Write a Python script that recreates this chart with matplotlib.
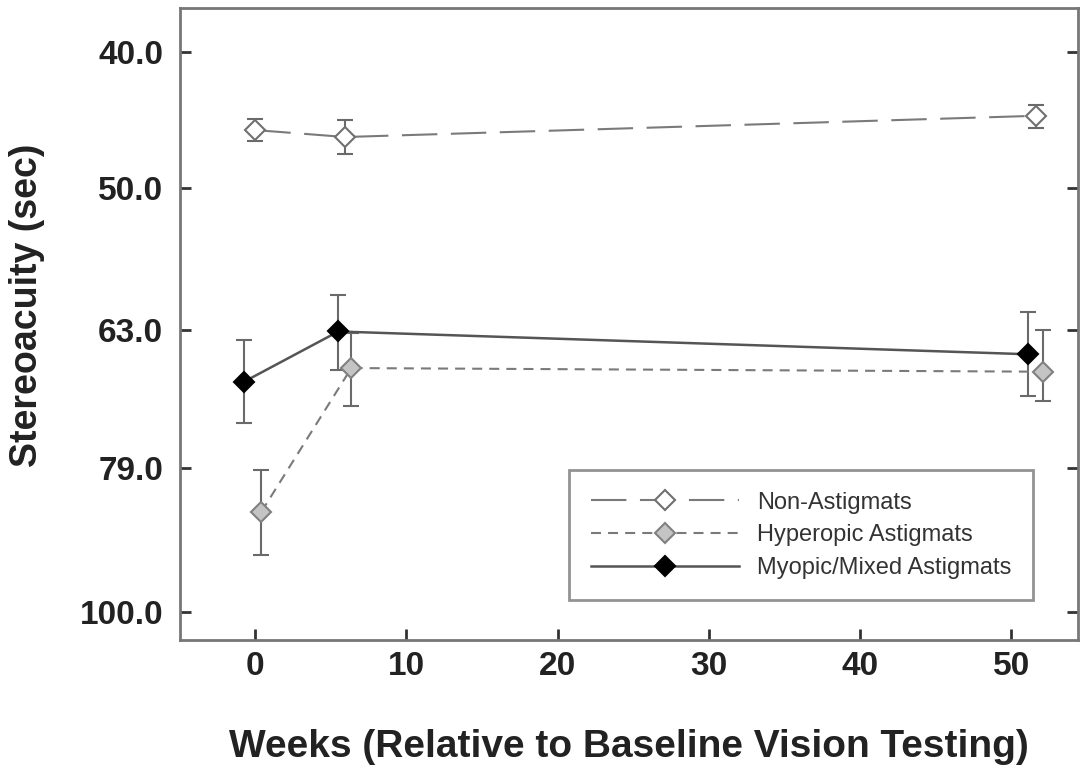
import matplotlib
matplotlib.use('Agg')
import matplotlib.pyplot as plt
from matplotlib.lines import Line2D
import numpy as np

# ---- data ----
yticks = [40, 50, 63, 79, 100]
ytick_labels = ['40.0', '50.0', '63.0', '79.0', '100.0']
xticks = [0, 10, 20, 30, 40, 50]

non_x = [0.0, 5.95, 51.65]
non_y = [45.45, 45.97, 44.4]
non_lo = [44.6, 44.7, 43.6]
non_hi = [46.3, 47.3, 45.3]

hyp_x = [0.4, 6.35, 52.1]
hyp_y = [84.9, 67.1, 67.5]
hyp_lo = [79.3, 63.4, 63.0]
hyp_hi = [91.1, 71.4, 70.8]

myo_x = [-0.73, 5.49, 51.1]
myo_y = [68.6, 63.2, 65.6]
myo_lo = [64.1, 59.5, 61.2]
myo_hi = [73.4, 67.3, 70.2]

labels = ['Non-Astigmats', 'Hyperopic Astigmats', 'Myopic/Mixed Astigmats']

plt.rcParams['font.family'] = ['Liberation Sans', 'DejaVu Sans']

fig = plt.figure(figsize=(10.83, 7.7), dpi=100)
ax = fig.add_axes([0.166, 0.169, 0.829, 0.821])


def err(y, lo, hi):
    y = np.array(y)
    return [y - np.array(lo), np.array(hi) - y]


ecol = '#6a6a6a'
styles = [
    dict(color='#7a7a7a', linestyle=(0, (17, 6.5)), linewidth=1.5,
         markerfacecolor='white', markeredgecolor='#707070'),
    dict(color='#7a7a7a', linestyle=(0, (4.8, 3.4)), linewidth=1.5,
         markerfacecolor='#c4c4c4', markeredgecolor='#808080'),
    dict(color='#555555', linestyle='-', linewidth=1.8,
         markerfacecolor='black', markeredgecolor='black'),
]
series = [(non_x, non_y, non_lo, non_hi),
          (hyp_x, hyp_y, hyp_lo, hyp_hi),
          (myo_x, myo_y, myo_lo, myo_hi)]

handles = []
for (xs, ys, lo, hi), st, lab in zip(series, styles, labels):
    ax.errorbar(xs, ys, yerr=err(ys, lo, hi), marker='D', markersize=10,
                markeredgewidth=1.5, ecolor=ecol, elinewidth=1.5, capsize=6,
                capthick=1.5, zorder=3, **st)
    handles.append(Line2D([], [], marker='D', markersize=10, markeredgewidth=1.5,
                          label=lab, **st))

ax.set_yscale('log')
ax.set_ylim(104.7, 37.2)
ax.set_yticks(yticks)
ax.set_yticklabels(ytick_labels)
ax.yaxis.set_minor_locator(matplotlib.ticker.NullLocator())
ax.set_xlim(-5.0, 54.4)
ax.set_xticks(xticks)

ax.tick_params(axis='both', direction='in', length=8, width=2, color='#333333',
               labelsize=24)
ax.tick_params(axis='y', right=True, left=True, pad=12)
ax.tick_params(axis='x', pad=8)
for lab in ax.get_xticklabels() + ax.get_yticklabels():
    lab.set_fontweight('bold')
    lab.set_color('#222222')
for sp in ax.spines.values():
    sp.set_color('#777777')
    sp.set_linewidth(2)

ax.set_ylabel('Stereoacuity (sec)', fontsize=27, fontweight='bold',
              color='#222222')
ax.yaxis.set_label_coords(-0.150, 0.53)
ax.set_xlabel('Weeks (Relative to Baseline Vision Testing)', fontsize=28,
              fontweight='bold', labelpad=34, color='#222222')

leg = ax.legend(handles=handles, loc='lower left', bbox_to_anchor=(0.434, 0.063),
                fontsize=17, handlelength=6.3, handletextpad=0.75, labelspacing=0.45,
                borderpad=0.9, borderaxespad=0, fancybox=False, frameon=True,
                numpoints=1)
leg.get_frame().set_edgecolor('#777777')
leg.get_frame().set_linewidth(2)
for t in leg.get_texts():
    t.set_color('#333333')

plt.savefig('out.png', dpi=100)
